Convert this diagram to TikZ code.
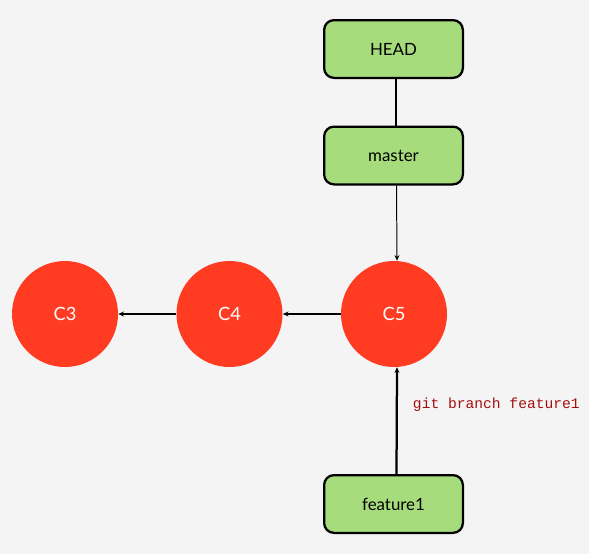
\documentclass[tikz,border=0pt]{standalone}
\usepackage{fontspec}
\setmainfont{Lato}
\setmonofont{Liberation Mono}
\usetikzlibrary{arrows.meta}
\definecolor{BackClr}{rgb}{0.957,0.957,0.957}
\definecolor{BranchClr}{rgb}{0.651,0.863,0.486}
\definecolor{CommitClr}{rgb}{1,0.231,0.133}
\definecolor{CmdClr}{rgb}{0.65,0.05,0.05}

\begin{document}
\begin{tikzpicture}[x=0.025cm,y=-0.025cm,
  branch/.style={draw=black,line width=1.6pt,fill=BranchClr,rounded corners=7pt,
    minimum width=141*0.025cm-1.6pt,minimum height=60*0.025cm-1.6pt,font=\fontsize{12}{14}\selectfont},
  commit/.style={circle,fill=CommitClr,minimum size=106*0.025cm,inner sep=0pt,
    text=white,font=\fontsize{13}{15}\selectfont},
  link/.style={line width=1pt,-{Stealth[length=4pt,width=3.5pt]}}]
\fill[BackClr] (0,0) rectangle (589,554);
\useasboundingbox (0,0) rectangle (589,554);

\node[branch] (head) at (393.5,49) {HEAD};
\node[branch] (master) at (393.5,155.5) {master};
\node[branch] (feature) at (393.5,504) {feature1};

\node[commit] (c3) at (65,314) {C3};
\node[commit] (c4) at (229.5,314) {C4};
\node[commit] (c5) at (394,314) {C5};

% vertical links sit a little right of the centre line
\draw[line width=1pt] ([xshift=2.5*0.025cm]head.south) -- ([xshift=2.5*0.025cm]master.north);
\draw[link,line width=0.7pt] ([xshift=3*0.025cm]master.south) -- ([xshift=3*0.025cm]c5.north);
\draw[link,line width=1.4pt] (c5) -- (c4);
\draw[link,line width=1.4pt] (c4) -- (c3);
\draw[link,line width=1.6pt] ([xshift=3*0.025cm]feature.north) -- ([xshift=3*0.025cm]c5.south);

\node[anchor=west,text=CmdClr,font=\ttfamily\fontsize{10.4}{12}\selectfont] (cmd) at (408,405) {git branch feature1};
\end{tikzpicture}
\end{document}
